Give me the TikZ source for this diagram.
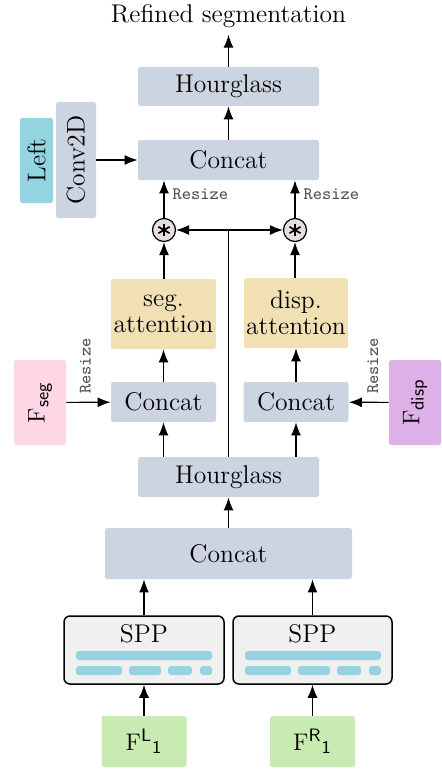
\documentclass[tikz,border=0pt]{standalone}
\usetikzlibrary{arrows.meta,calc}
\definecolor{boxgray}{HTML}{CDD4E1}
\definecolor{leftcyan}{HTML}{94D4E0}
\definecolor{attntan}{HTML}{F0E0B4}
\definecolor{segpink}{HTML}{FFD6E6}
\definecolor{disppurple}{HTML}{DDB0E8}
\definecolor{featgreen}{HTML}{C8EBB2}
\definecolor{mulfill}{HTML}{E6DEDE}
\definecolor{sppfill}{HTML}{F0F0F0}
\definecolor{resizegray}{HTML}{505050}
\begin{document}
\begin{tikzpicture}[x=0.5pt,y=-0.5pt,
  txt/.style={font=\fontsize{12.8}{13}\selectfont},
  box/.style={txt, fill=boxgray, rounded corners=1.2pt, inner sep=0pt, align=center},
  arr/.style={-{Latex[length=6.5pt,width=5pt]}, line width=0.6pt},
  plain/.style={line width=0.6pt},
  resize/.style={font=\fontsize{8.8}{10}\ttfamily, text=resizegray, inner sep=1pt},
  mul/.style={circle, draw, line width=0.6pt, fill=mulfill, minimum size=11.5pt, inner sep=0pt},
  sppbox/.style={draw, line width=0.75pt, fill=sppfill, rounded corners=3pt, minimum width=80pt, minimum height=34pt, inner sep=0pt},
  bar/.style={fill=leftcyan, rounded corners=1.5pt}
]
\useasboundingbox (0,0) rectangle (441,772);

% output label
\node[txt] (out) at (228.5,16) {Refined segmentation};

% refinement stack
\node[box, minimum width=90.5pt, minimum height=19.5pt] (hgTop) at (228.5,86.5) {Hourglass};
\node[box, minimum width=90.5pt, minimum height=20pt] (catTop) at (228.5,160) {Concat};

% left image branch
\node[box, fill=leftcyan, minimum width=42.5pt, minimum height=16.5pt, rotate=90] (left) at (36.5,160.5) {Left};
\node[box, minimum width=58pt, minimum height=20pt, rotate=90] (conv) at (76,160) {Conv2D};

% attention weighting
\node[mul] (mulL) at (164,230) {};
\node[mul] (mulR) at (295,230) {};
\foreach \m in {mulL,mulR}{
  \foreach \a in {90,30,150}{
    \draw[line width=0.85pt] ($(\m)+(\a:3.2pt)$) -- ($(\m)+(\a+180:3.2pt)$);
  }
}

\node[box, fill=attntan, minimum width=52.5pt, minimum height=35pt] (attSeg) at (163.5,314) {seg.\\attention};
\node[box, fill=attntan, minimum width=52pt, minimum height=35pt] (attDisp) at (296,313) {disp.\\attention};

\node[box, minimum width=52.5pt, minimum height=20pt] (catL) at (163.5,402) {Concat};
\node[box, minimum width=52.5pt, minimum height=20pt] (catR) at (296,402) {Concat};

\node[box, fill=segpink, minimum width=42.5pt, minimum height=26pt, rotate=90] (fseg) at (40,402.5) {$\mathrm{F}_{\mathsf{seg}}$};
\node[box, fill=disppurple, minimum width=42.5pt, minimum height=26pt, rotate=90] (fdisp) at (415,402.5) {$\mathrm{F}_{\mathsf{disp}}$};

\node[box, minimum width=90.5pt, minimum height=20pt] (hgMid) at (228.5,477) {Hourglass};
\node[box, minimum width=123.5pt, minimum height=25.5pt] (catBig) at (228.5,553.5) {Concat};

% feature extraction
\node[sppbox] (sppL) at (144,650) {};
\node[sppbox, minimum width=79.5pt] (sppR) at (312.5,650) {};
\node[txt] (sppLtxt) at (144,634) {SPP};
\node[txt] (sppRtxt) at (312.5,634) {SPP};
\foreach \dx in {0,169}{
  \begin{scope}[xshift=\dx*0.5pt]
    \fill[bar] (76,651) rectangle (212,660);
    \fill[bar] (76,666) rectangle (122,675);
    \fill[bar] (129,666) rectangle (161,675);
    \fill[bar] (168,666) rectangle (192,675);
    \fill[bar] (200,666) rectangle (212,675);
  \end{scope}
}

\node[box, fill=featgreen, minimum width=42.5pt, minimum height=25.5pt] (fL) at (144,741.5) {$\mathrm{F}^{\mathsf{L}}{}_{\mathsf{1}}$};
\node[box, fill=featgreen, minimum width=42.5pt, minimum height=25.5pt] (fR) at (312.5,741.5) {$\mathrm{F}^{\mathsf{R}}{}_{\mathsf{1}}$};

% connectors
\draw[arr] (fL) -- (sppL);
\draw[arr] (fR) -- (sppR);
\draw[arr] (sppL.north) -- (sppL.north |- catBig.south);
\draw[arr] (sppR.north) -- (sppR.north |- catBig.south);
\draw[arr] (catBig) -- (hgMid);

\draw[arr] (hgMid.north -| catL) -- (catL);
\draw[arr] (hgMid.north -| catR) -- (catR);
\coordinate (junc) at (hgMid.north |- mulL);
\draw[plain] (hgMid.north) -- (junc);
\draw[arr] (junc) -- (mulL);
\draw[arr] (junc) -- (mulR);

\draw[arr] (fseg) -- (catL) node[pos=0.43, resize, rotate=90, anchor=west, xshift=3pt] {Resize};
\draw[arr] (fdisp) -- (catR) node[pos=0.4, resize, rotate=90, anchor=west, xshift=3pt] {Resize};

\draw[arr] (catL) -- (attSeg);
\draw[arr] (catR) -- (attDisp);
\draw[arr] (attSeg.north -| mulL) -- (mulL);
\draw[arr] (attDisp.north -| mulR) -- (mulR);

\draw[arr] (mulL) -- (mulL |- catTop.south) node[pos=0.62, resize, anchor=west, xshift=3pt] {Resize};
\draw[arr] (mulR) -- (mulR |- catTop.south) node[pos=0.62, resize, anchor=west, xshift=3pt] {Resize};

\draw[arr] (conv) -- (catTop);
\draw[arr] (catTop) -- (hgTop);
\draw[arr] (hgTop) -- (out);
\end{tikzpicture}
\end{document}
